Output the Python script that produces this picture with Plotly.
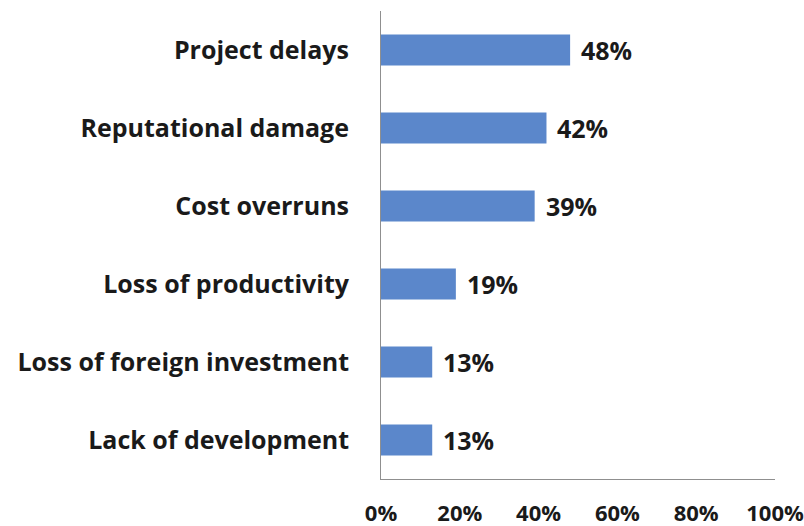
import plotly.graph_objects as go

# Survey results: consequences reported (share of respondents)
categories = [
    "Lack of development",
    "Loss of foreign investment",
    "Loss of productivity",
    "Cost overruns",
    "Reputational damage",
    "Project delays",
]
shares = [13, 13, 19, 39, 42, 48]
tick_values = [0, 20, 40, 60, 80, 100]
tick_labels = ["0%", "20%", "40%", "60%", "80%", "100%"]

FONT = "Open Sans"
BAR_COLOR = "#5B87CB"
TEXT_COLOR = "#1a1a1a"

fig = go.Figure(
    go.Bar(
        x=shares,
        y=categories,
        orientation="h",
        marker=dict(color=BAR_COLOR, line=dict(width=0)),
        width=0.4,
        hoverinfo="skip",
    )
)

# Value labels to the right of each bar
for cat, val in zip(categories, shares):
    fig.add_annotation(
        x=val,
        y=cat,
        text=f"<b>{val}%</b>",
        showarrow=False,
        xanchor="left",
        xshift=9,
        font=dict(family=FONT, size=25, color=TEXT_COLOR),
    )

fig.update_layout(
    width=804,
    height=526,
    margin=dict(l=381, r=29, t=11, b=47),
    paper_bgcolor="white",
    plot_bgcolor="white",
    showlegend=False,
    font=dict(family=FONT, color=TEXT_COLOR),
)

fig.update_xaxes(
    range=[0, 100],
    tickvals=tick_values,
    ticktext=[f"<b>{t}</b>" for t in tick_labels],
    tickfont=dict(family=FONT, size=22, color=TEXT_COLOR),
    showgrid=False,
    zeroline=False,
    showline=True,
    linecolor="#8f8f8f",
    linewidth=1,
    ticks="",
    ticklabelstandoff=15,
    automargin=False,
    fixedrange=True,
)

fig.update_yaxes(
    categoryorder="array",
    categoryarray=categories,
    tickvals=categories,
    ticktext=[f"<b>{c}</b>" for c in categories],
    tickfont=dict(family=FONT, size=25, color=TEXT_COLOR),
    showgrid=False,
    zeroline=False,
    showline=True,
    linecolor="#8f8f8f",
    linewidth=1,
    ticks="",
    ticklabelstandoff=26,
    automargin=False,
    fixedrange=True,
)

fig.write_html("out.html")
